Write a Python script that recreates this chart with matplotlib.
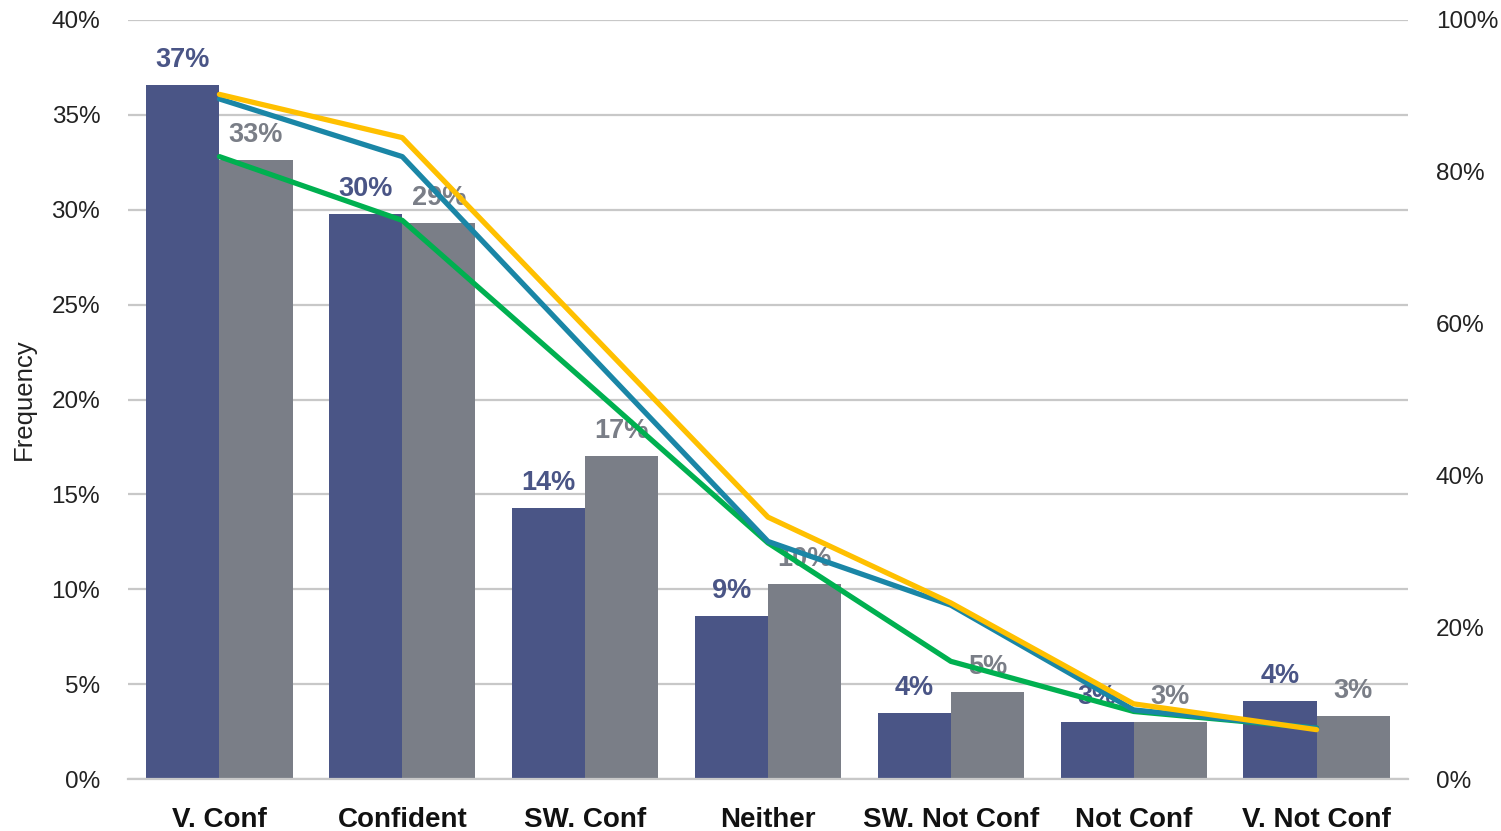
import matplotlib
matplotlib.use("Agg")
import matplotlib.pyplot as plt
import numpy as np
from matplotlib.ticker import PercentFormatter, MultipleLocator

plt.rcParams['font.family'] = ['Liberation Sans', 'DejaVu Sans']

categories = ["V. Conf", "Confident", "SW. Conf", "Neither", "SW. Not Conf", "Not Conf", "V. Not Conf"]
series_a = [36.6, 29.8, 14.3, 8.6, 3.5, 3.0, 4.1]      # dark bars (%)
series_b = [32.6, 29.3, 17.0, 10.3, 4.6, 3.0, 3.3]     # gray bars (%)
line_yellow = [90.2, 84.5, 59.5, 34.5, 23.2, 9.9, 6.5]  # right axis (%)
line_blue = [89.6, 82.0, 56.6, 31.3, 22.9, 9.1, 6.7]
line_green = [82.0, 73.6, 52.4, 31.1, 15.5, 8.9, 6.7]

c_dark = "#4a5586"
c_gray = "#7a7e87"

fig = plt.figure(figsize=(15.01, 8.31), dpi=100)
ax = fig.add_axes([128/1501, 1-779/831, 1280/1501, 759/831])
ax2 = ax.twinx()

x = np.arange(len(categories))
w = 0.4
a = np.array(series_a) / 100
b = np.array(series_b) / 100
ax.bar(x - w/2, a, width=w, color=c_dark, zorder=2)
ax.bar(x + w/2, b, width=w, color=c_gray, zorder=2)

for xi, v in zip(x, a):
    ax.annotate(f"{round(v*100):d}%", (xi - w/2, v), xytext=(0, 18), textcoords="offset points",
                ha="center", va="center", fontsize=19.5, fontweight="bold", color=c_dark, zorder=3)
for xi, v in zip(x, b):
    ax.annotate(f"{round(v*100):d}%", (xi + w/2, v), xytext=(0, 18), textcoords="offset points",
                ha="center", va="center", fontsize=19.5, fontweight="bold", color=c_gray, zorder=3)

ax.set_xlim(-0.5, 6.5)
ax.set_ylim(0, 0.4)
ax.yaxis.set_major_locator(MultipleLocator(0.05))
ax.yaxis.set_major_formatter(PercentFormatter(1.0, decimals=0))
ax.grid(axis="y", color="#c8c8c8", linewidth=1.6, zorder=0)
ax.set_axisbelow(True)
for s in ["top", "right", "left"]:
    ax.spines[s].set_visible(False)
ax.spines["bottom"].set_color("#c8c8c8")
ax.spines["bottom"].set_linewidth(1.6)
ax.tick_params(axis="y", length=0, pad=20, labelsize=17.5, labelcolor="#222222")
ax.tick_params(axis="x", length=0, pad=20)
ax.set_xticks(x)
ax.set_xticklabels(categories, fontsize=20, fontweight="bold", color="#111111")
ax.set_ylabel("Frequency", fontsize=18.5, color="#222222", labelpad=11)

yv = np.array(line_yellow) / 100
bv = np.array(line_blue) / 100
gv = np.array(line_green) / 100
ax2.plot(x, gv, color="#00b050", linewidth=3.8, zorder=3, solid_capstyle="round")
ax2.plot(x, bv, color="#1a86a6", linewidth=3.8, zorder=4, solid_capstyle="round")
ax2.plot(x, yv, color="#ffc000", linewidth=3.8, zorder=5, solid_capstyle="round")
ax2.set_ylim(0, 1)
ax2.yaxis.set_major_locator(MultipleLocator(0.2))
ax2.yaxis.set_major_formatter(PercentFormatter(1.0, decimals=0))
ax2.tick_params(axis="y", length=0, pad=20, labelsize=17.5, labelcolor="#222222")
for s in ["top", "right", "left", "bottom"]:
    ax2.spines[s].set_visible(False)

fig.savefig("out.png", dpi=100)
